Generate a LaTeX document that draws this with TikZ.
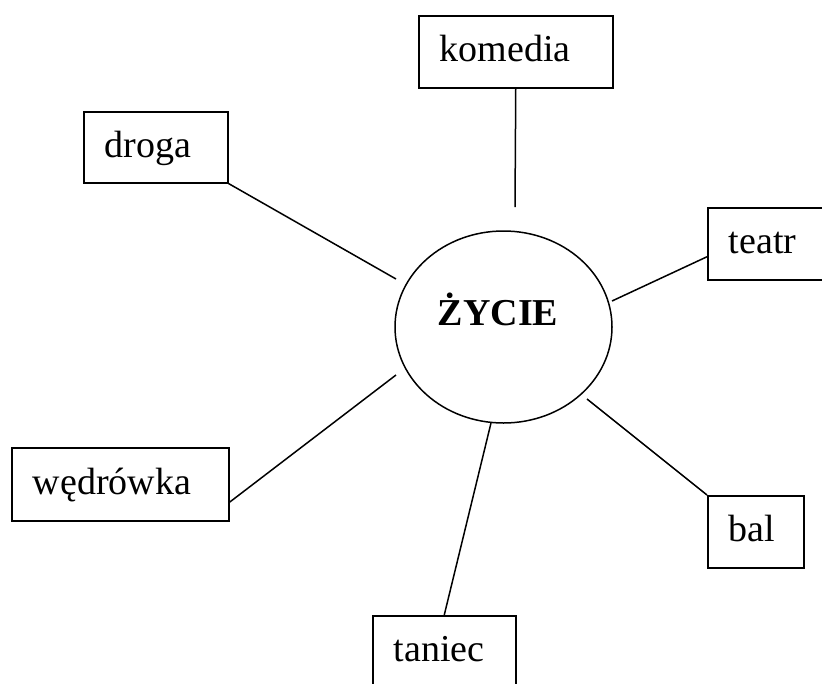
\documentclass[tikz,border=0pt]{standalone}
\usepackage{fontspec}
\setmainfont{Liberation Serif}
\usetikzlibrary{shapes.geometric}

\tikzset{
  word/.style={draw, line width=1.5pt, anchor=north west, inner xsep=21pt, inner ysep=0pt,
    align=left, text height=27pt, text depth=7pt, font=\fontsize{38}{44}\selectfont},
  link/.style={line width=1.5pt},
}

\begin{document}
\begin{tikzpicture}[x=1pt,y=-1pt]
  \clip (0,0) rectangle (822,683);
  %% the middle
  \node [draw, ellipse, line width=1.5pt, minimum width=217pt, minimum height=192pt, inner sep=0pt] (zycie) at (503.5,327) {};
  \node [font=\fontsize{38}{44}\selectfont\bfseries, anchor=base] (zycietxt) at (498,325) {ŻYCIE};

  %% the boxes round it
  \node [word, text width=152pt, minimum height=72pt] (komedia) at (418,15) {komedia};
  \node [word, text width=102pt, minimum height=71pt] (droga) at (83,111) {droga};
  \node [word, text width=78pt, minimum height=72pt] (teatr) at (707,207) {teatr};
  \node [word, text width=175pt, minimum height=73pt] (wedrowka) at (11,447) {wędrówka};
  \node [word, text width=54pt, minimum height=72pt] (bal) at (707,495) {bal};
  \node [word, text width=101pt, minimum height=72pt] (taniec) at (372,615) {taniec};

  %% loose ends, the lines stop short of the ellipse
  \coordinate (komedia-end) at (515,207);
  \coordinate (droga-end) at (396,279);
  \coordinate (teatr-end) at (612,301);
  \coordinate (wedrowka-end) at (396,375);
  \coordinate (bal-end) at (587,399);
  \coordinate (taniec-end) at (491,423);

  \draw [link] (komedia.south) -- (komedia-end);
  \draw [link] (droga.south east) -- (droga-end);
  \draw [link] ([yshift=-13pt]teatr.west) -- (teatr-end);
  \draw [link] ([yshift=-18pt]wedrowka.east) -- (wedrowka-end);
  \draw [link] (bal.north west) -- (bal-end);
  \draw [link] (taniec.north) -- (taniec-end);
\end{tikzpicture}
\end{document}
